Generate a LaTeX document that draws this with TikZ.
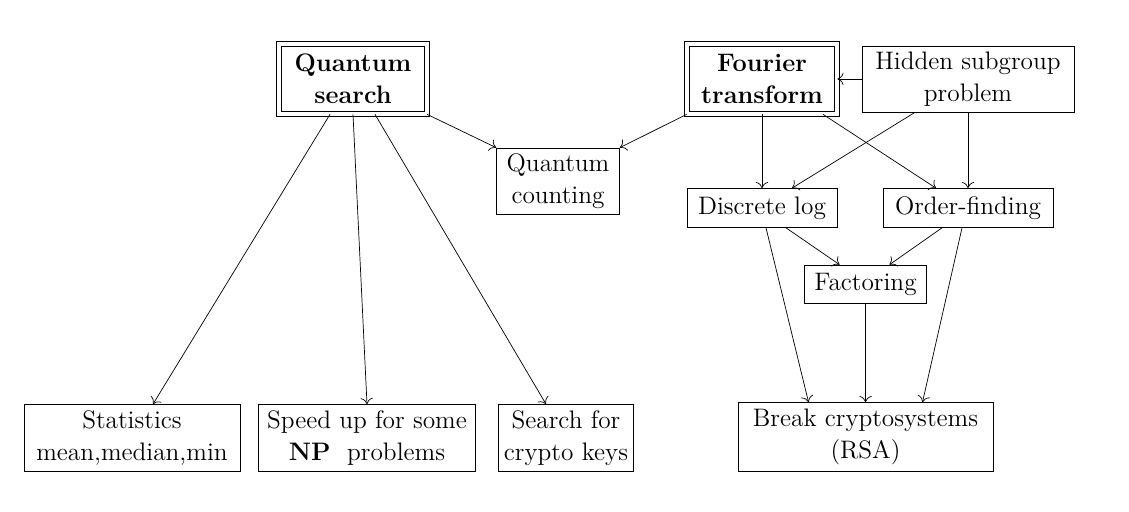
\documentclass[tikz,border=0pt]{standalone}
\usetikzlibrary{arrows.meta}
\begin{document}
\begin{tikzpicture}
[box/.style={draw,align=center,font=\Large,inner sep=1pt},
mainbox/.style={box,double,double distance=2.5pt,font=\Large\bfseries},
link/.style={-{To[length=3.5pt,width=7pt]},thin}]
       \useasboundingbox (0,0) rectangle (22.58,10.22);
       \node at (7.06,8.64) [mainbox,minimum width=2.95cm,minimum height=1.4cm] (qs) {Quantum\\search};
       \node at (15.24,8.64) [mainbox,minimum width=3cm,minimum height=1.4cm] (ft) {Fourier\\transform};
       \node at (19.36,8.64) [box,minimum width=4.24cm,minimum height=1.32cm] (hsp) {Hidden subgroup\\problem};
       \node at (11.16,6.6) [box,minimum width=2.46cm,minimum height=1.32cm] (qc) {Quantum\\counting};
       \node at (15.24,6.06) [box,minimum width=3cm,minimum height=0.78cm] (dl) {Discrete log};
       \node at (19.36,6.06) [box,minimum width=3.4cm,minimum height=0.78cm] (of) {Order-finding};
       \node at (17.31,4.54) [box,minimum width=2.44cm,minimum height=0.76cm] (fac) {Factoring};
       \node at (2.64,1.46) [box,minimum width=4.32cm,minimum height=1.34cm] (stat) {Statistics\\mean,median,min};
       \node at (7.34,1.46) [box,minimum width=4.34cm,minimum height=1.34cm] (np) {Speed up for some\\\textbf{NP}~ problems};
       \node at (11.32,1.46) [box,minimum width=2.7cm,minimum height=1.34cm] (keys) {Search for\\crypto keys};
       \node at (17.31,1.48) [box,minimum width=5.1cm,minimum height=1.38cm] (rsa) {Break cryptosystems\\(RSA)};
       % quantum search side
       \draw[link] ([xshift=-0.46cm]qs.south) -- ([xshift=0.42cm]stat.north);
       \draw[link] (qs.south) -- (np.north);
       \draw[link] ([xshift=0.44cm]qs.south) -- ([xshift=-0.4cm]keys.north);
       \draw[link] (qs.south east) -- (qc.north west);
       \draw[link] (ft.south west) -- (qc.north east);
       % fourier transform side
       \draw[link] (hsp.west) -- (ft.east);
       \draw[link] (ft.south) -- (dl.north);
       \draw[link] ([xshift=1.22cm]ft.south) -- ([xshift=-0.64cm]of.north);
       \draw[link] ([xshift=-1.06cm]hsp.south) -- ([xshift=0.6cm]dl.north);
       \draw[link] (hsp.south) -- (of.north);
       \draw[link] ([xshift=0.48cm]dl.south) -- ([xshift=-0.52cm]fac.north);
       \draw[link] ([xshift=-0.52cm]of.south) -- ([xshift=0.48cm]fac.north);
       \draw[link] ([xshift=0.08cm]dl.south) -- ([xshift=-1.14cm]rsa.north);
       \draw[link] ([xshift=-0.12cm]of.south) -- ([xshift=1.14cm]rsa.north);
       \draw[link] (fac.south) -- (rsa.north);
    \end{tikzpicture}
\end{document}
